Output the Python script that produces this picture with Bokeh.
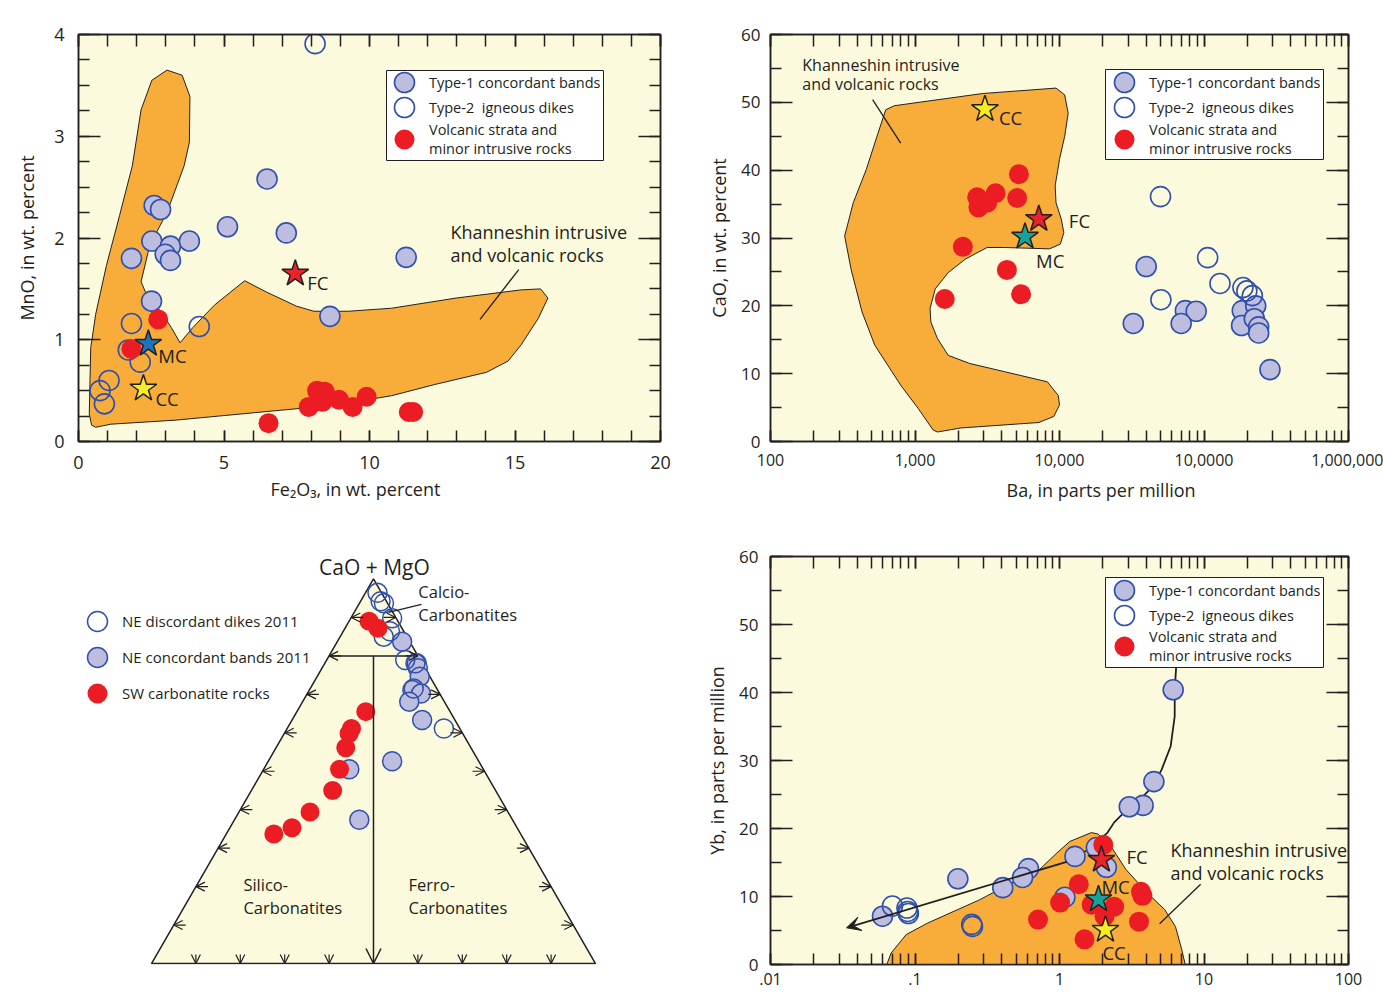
import math
from bokeh.plotting import figure
from bokeh.models import (Range1d, FixedTicker, LinearAxis, LogAxis, Legend, LegendItem, Label, Title,
                          Arrow, OpenHead, VeeHead, BoxAnnotation, ColumnDataSource, CustomJSTickFormatter)
from bokeh.layouts import column, row
from bokeh.embed import file_html
from bokeh.resources import INLINE

# ======================= DATA =======================
# ---- Panel A : Fe2O3 vs MnO (wt. percent)
A_t1_fe = [6.48, 2.60, 2.82, 5.12, 7.14, 2.52, 3.16, 3.81, 2.98, 3.16, 1.82, 11.26, 2.51, 8.64]
A_t1_mn = [2.58, 2.32, 2.28, 2.11, 2.05, 1.97, 1.92, 1.97, 1.84, 1.78, 1.80, 1.81, 1.38, 1.23]
A_t2_fe = [8.13, 1.82, 4.15, 1.71, 2.12, 1.05, 0.74, 0.89]
A_t2_mn = [3.91, 1.16, 1.13, 0.90, 0.78, 0.60, 0.50, 0.37]
A_vo_fe = [2.74, 1.82, 8.20, 8.46, 8.38, 7.91, 8.95, 9.42, 9.90, 11.35, 11.50, 6.53]
A_vo_mn = [1.20, 0.91, 0.50, 0.49, 0.39, 0.34, 0.41, 0.34, 0.44, 0.29, 0.29, 0.18]
A_star_names = ["FC", "MC", "CC"]
A_star_fe = [7.45, 2.40, 2.23]
A_star_mn = [1.65, 0.96, 0.52]
A_field_fe = [0.45, 0.37, 0.42, 0.59, 0.96, 1.41, 1.85, 2.15, 2.52, 3.04, 3.56, 3.83, 3.81, 3.63, 3.04,
              2.45, 2.15, 2.30, 2.74, 3.19, 3.49, 3.93, 4.67, 5.71, 6.45, 7.49, 8.09, 9.27, 10.76, 12.98,
              15.21, 15.88, 16.13, 15.80, 15.21, 14.76, 14.02, 12.24, 10.76, 9.27, 7.79, 4.82, 3.34, 1.11, 0.59]
A_field_mn = [0.16, 0.27, 0.92, 1.25, 1.73, 2.22, 2.71, 3.26, 3.55, 3.65, 3.60, 3.39, 2.94, 2.71, 2.25,
              1.93, 1.57, 1.47, 1.31, 1.12, 0.97, 1.12, 1.34, 1.58, 1.47, 1.33, 1.28, 1.28, 1.31, 1.41,
              1.49, 1.50, 1.41, 1.21, 0.95, 0.79, 0.68, 0.56, 0.45, 0.38, 0.33, 0.25, 0.21, 0.17, 0.14]
A_leader_fe = [15.13, 13.80]
A_leader_mn = [1.69, 1.20]

# ---- Panel B : Ba (ppm, log) vs CaO (wt. percent)
B_t1_ba = [39800, 32400, 74300, 88300, 69500, 184000, 228000, 182000, 223000, 239000, 239000, 286000]
B_t1_ca = [25.8, 17.4, 19.3, 19.2, 17.4, 19.3, 20.0, 17.1, 18.1, 16.9, 16.0, 10.6]
B_t2_ba = [50000, 106000, 129000, 50300, 186000, 198000, 216000]
B_t2_ca = [36.1, 27.1, 23.3, 20.9, 22.7, 22.2, 21.5]
B_vo_ba = [5236, 2692, 3612, 5093, 2748, 3155, 2143, 4325, 5420, 1607]
B_vo_ca = [39.4, 36.0, 36.6, 35.9, 34.5, 35.2, 28.7, 25.3, 21.7, 21.0]
B_star_names = ["FC", "MC", "CC"]
B_star_ba = [7194, 5770, 3048]
B_star_ca = [32.8, 30.2, 49.0]
B_field_ba = [627, 719, 2944, 9462, 10864, 11482, 10864, 10000, 9333, 9462, 10280, 10715, 10139, 8531,
              4150, 3155, 2234, 1698, 1380, 1271, 1288, 1429, 1698, 2393, 4150, 8241, 9795, 10000, 9141,
              7194, 2084, 1429, 1334, 1050, 796, 527, 430, 361, 326, 374, 460, 546]
B_field_ca = [48.9, 49.5, 51.3, 52.1, 51.1, 48.4, 45.0, 41.6, 37.7, 35.2, 32.8, 30.8, 29.1, 28.4,
              28.6, 28.6, 26.9, 24.9, 22.5, 19.6, 17.6, 15.2, 12.7, 11.5, 10.3, 8.8, 6.8, 5.4, 3.7,
              2.8, 2.0, 1.4, 1.7, 4.9, 8.3, 14.2, 19.1, 25.4, 30.3, 35.2, 40.1, 45.0]
B_leader_ba = [509, 796]
B_leader_ca = [50.4, 44.0]
B_tick_vals = [100, 1000, 10000, 100000, 1000000]
B_tick_text = ["100", "1,000", "10,000", "10,0000", "1,000,000"]

# ---- Panel C : ternary  CaO+MgO / Fe2O3+MnO / SiO2 (percent)
C_open_cao = [96.4, 94.2, 93.7, 89.8, 86.4, 85.0, 78.9, 78.1, 71.5, 61.1]
C_open_fe = [2.7, 4.5, 5.5, 9.3, 10.5, 9.8, 17.7, 20.4, 23.3, 35.3]
C_band_cao = [83.7, 78.1, 76.8, 74.6, 71.1, 70.2, 68.1, 63.3, 52.6, 50.5, 37.4]
C_band_fe = [14.6, 20.7, 21.6, 23.1, 23.2, 25.6, 24.0, 29.3, 27.9, 19.3, 28.1]
C_sw_cao = [89.0, 87.2, 65.5, 61.1, 59.8, 56.1, 50.5, 45.0, 39.4, 35.3, 33.7]
C_sw_fe = [4.5, 7.4, 15.5, 14.5, 14.6, 15.7, 17.1, 18.3, 16.0, 14.0, 10.7]
C_open_si = [100 - a - b for a, b in zip(C_open_cao, C_open_fe)]
C_band_si = [100 - a - b for a, b in zip(C_band_cao, C_band_fe)]
C_sw_si = [100 - a - b for a, b in zip(C_sw_cao, C_sw_fe)]
C_calcio_limit = 80          # CaO+MgO boundary (percent)
C_tick_steps = [10, 20, 30, 40, 50, 60, 70, 80, 90]

# ---- Panel D : ratio (log) vs Yb (ppm)
D_t1_x = [6.12, 4.50, 3.79, 3.04, 1.28, 1.80, 0.61, 0.555, 0.405, 0.198, 0.0596, 1.09, 2.11]
D_t1_yb = [40.4, 26.9, 23.4, 23.2, 15.9, 17.2, 14.1, 12.8, 11.3, 12.6, 7.1, 9.9, 14.3]
D_t2_x = [0.0698, 0.088, 0.089, 0.090, 0.247, 0.250]
D_t2_yb = [8.6, 8.3, 7.8, 7.5, 5.9, 5.6]
D_vo_x = [2.01, 1.36, 1.01, 0.71, 1.67, 2.39, 3.66, 3.75, 3.55, 1.49, 2.05]
D_vo_yb = [17.6, 11.8, 9.1, 6.6, 8.8, 8.5, 10.7, 10.1, 6.3, 3.7, 7.1]
D_star_names = ["FC", "MC", "CC"]
D_star_x = [1.95, 1.86, 2.08]
D_star_yb = [15.4, 9.6, 5.1]
D_field_x = [0.0638, 0.0684, 0.0869, 0.1225, 0.279, 0.518, 0.730, 0.959, 1.180, 1.663, 1.841,
             2.265, 2.877, 4.055, 5.333, 6.339, 7.015, 7.413]
D_field_yb = [0.0, 1.7, 4.4, 6.1, 9.5, 12.5, 14.0, 16.4, 18.1, 19.4, 19.2,
              17.4, 14.0, 10.5, 8.1, 5.6, 2.2, 0.0]
D_trend_x = [6.41, 6.27, 6.27, 5.88, 5.10, 4.43, 3.61, 2.94, 2.39, 2.15, 1.59, 1.12]
D_trend_yb = [43.6, 40.4, 36.5, 32.1, 28.7, 26.2, 24.3, 22.8, 20.9, 19.4, 16.9, 15.1]
D_arrow_tip = (0.0336, 5.4)
D_leader_x = [9.48, 4.93]
D_leader_yb = [11.8, 6.0]
D_tick_vals = [0.01, 0.1, 1, 10, 100]
D_tick_text = [".01", ".1", "1", "10", "100"]

# ======================= STYLE =======================
FONT = "Open Sans"
INK = "#231F20"
BG = "#FCFADD"
ORANGE = "#F8AD3A"
LAV = "#BDBDE0"
BLUE = "#3150AB"
RED = "#EC1C24"
STAR_COL = {"FC": "#E8232B", "MC_A": "#1C75BC", "MC": "#16A39A", "CC": "#F7EC1F"}
MS = 20

# uniform layout grid (all figures in a column / row share the same borders)
COL1 = dict(l=78, w=582, r=23)
COL2 = dict(l=87, w=578, r=35)
ROW1 = dict(t=34, h=407, b=72)
ROW2 = dict(t=43, h=408, b=30)


def make_fig(col, rw, xr, yr, x_type="linear", bg=BG):
    p = figure(frame_width=col["w"], frame_height=rw["h"], min_border_left=col["l"],
               min_border_right=col["r"], min_border_top=rw["t"], min_border_bottom=rw["b"],
               x_range=xr, y_range=yr, x_axis_type=x_type, output_backend="svg",
               toolbar_location=None, background_fill_color=bg, border_fill_color="white")
    p.outline_line_color = INK
    p.outline_line_width = 1.5
    p.grid.visible = False
    return p


def style_axis(ax, ticks, minor, major_len, minor_len, overrides=None, show=True,
               font_size="18px", standoff=10):
    ax.ticker = FixedTicker(ticks=ticks, minor_ticks=minor)
    ax.major_tick_in = major_len
    ax.major_tick_out = 0
    ax.minor_tick_in = minor_len
    ax.minor_tick_out = 0
    ax.axis_line_color = INK
    ax.axis_line_width = 1.5
    ax.major_tick_line_color = INK
    ax.minor_tick_line_color = INK
    ax.major_tick_line_width = 1.5
    ax.minor_tick_line_width = 1.5
    if not show:
        ax.formatter = CustomJSTickFormatter(code="return ''")
        ax.major_label_standoff = 0
        ax.major_label_text_font_size = "0px"
    else:
        if overrides:
            ax.major_label_overrides = overrides
        ax.major_label_text_font = FONT
        ax.major_label_text_font_size = font_size
        ax.major_label_text_color = INK
        ax.major_label_standoff = standoff
    ax.axis_label_text_font = FONT
    ax.axis_label_text_font_style = "normal"
    ax.axis_label_text_font_size = "18px"
    ax.axis_label_text_color = INK


def x_title(p, txt, offset, standoff):
    # axis title under the tick labels, left-aligned at `offset` px from the frame's left edge
    p.add_layout(Title(text=txt, align="left", offset=offset, standoff=standoff,
                       text_font=FONT, text_font_size="18px", text_font_style="normal",
                       text_color=INK), "below")


def add_points(p, t1x, t1y, t2x, t2y, vx, vy, size=MS):
    r1 = p.scatter(t1x, t1y, size=size, fill_color=LAV, line_color=BLUE, line_width=1.6)
    r2 = p.scatter(t2x, t2y, size=size, fill_color=None, line_color=BLUE, line_width=1.6)
    r3 = p.scatter(vx, vy, size=size, fill_color=RED, line_color=None)
    return r1, r2, r3


def add_legend(p, rends, labels, cx, cys, box=None, font_size="14.5px"):
    # cx, cys: glyph centres in screen px measured from the frame's bottom-left corner
    if box is not None:
        l, r, b, t = box
        p.add_layout(BoxAnnotation(left=l, right=r, bottom=b, top=t,
                                   left_units="screen", right_units="screen",
                                   top_units="screen", bottom_units="screen",
                                   fill_color="white", fill_alpha=1.0,
                                   line_color=INK, line_width=1, line_alpha=1.0))
    for lab, r, cy in zip(labels, rends, cys):
        leg = Legend(items=[LegendItem(label=lab, renderers=[r])],
                     location=(cx - 25, cy - 25), glyph_width=50, glyph_height=50, spacing=0,
                     padding=0, margin=0, label_standoff=-4, label_text_font=FONT,
                     label_text_font_size=font_size, label_text_line_height=1.23,
                     label_text_color=INK, border_line_color=None, background_fill_alpha=0)
        p.add_layout(leg)


def screen_text(p, txt, x, y, size="22px", font="Liberation Sans", align="center"):
    p.add_layout(Label(x=x, y=y, x_units="screen", y_units="screen", text=txt,
                       text_font=font, text_font_size=size,
                       text_align=align, text_baseline="middle", text_color=INK))


def text_label(p, x, y, txt, size="18.5px", dx=0, dy=0, align="left", baseline="middle", lh=1.0):
    p.add_layout(Label(x=x, y=y, text=txt, x_offset=dx, y_offset=dy, text_font=FONT,
                       text_font_size=size, text_align=align, text_baseline=baseline,
                       text_line_height=lh, text_color=INK))


LEG_LABELS = ["Type-1 concordant bands", "Type-2  igneous dikes", "Volcanic strata and\nminor intrusive rocks"]

# ======================= PANEL A =======================
pA = make_fig(COL1, ROW1, Range1d(0, 20), Range1d(0, 4))
style_axis(pA.xaxis[0], [0, 5, 10, 15, 20], list(range(0, 21)), 11, 11, standoff=14)
style_axis(pA.yaxis[0], [0, 1, 2, 3, 4], [i * 0.25 for i in range(17)], 22, 11, standoff=14)
x_title(pA, "Fe\u2082O\u2083, in wt. percent", 192, 6)
pA.yaxis[0].axis_label = "MnO, in wt. percent"
pA.yaxis[0].axis_label_standoff = 12
topA = LinearAxis()
rightA = LinearAxis()
pA.add_layout(topA, "above")
pA.add_layout(rightA, "right")
style_axis(topA, [0, 5, 10, 15, 20], list(range(0, 21)), 12, 12, show=False)
style_axis(rightA, [0, 1, 2, 3, 4], [i * 0.25 for i in range(17)], 22, 11, show=False)

pA.patch(A_field_fe, A_field_mn, fill_color=ORANGE, line_color=INK, line_width=1)
pA.line(A_leader_fe, A_leader_mn, line_color=INK, line_width=1.3)
rA = add_points(pA, A_t1_fe, A_t1_mn, A_t2_fe, A_t2_mn, A_vo_fe, A_vo_mn)
pA.scatter(A_star_fe, A_star_mn, marker="star", size=28,
           fill_color=[STAR_COL["FC"], STAR_COL["MC_A"], STAR_COL["CC"]],
           line_color=INK, line_width=1.5)
for nm, sx, sy, dx, dy in zip(A_star_names, A_star_fe, A_star_mn, [12, 10, 12], [-9, -12, -10]):
    text_label(pA, sx, sy, nm, dx=dx, dy=dy)
text_label(pA, 12.78, 1.946, "Khanneshin intrusive\nand volcanic rocks", size="18px", lh=0.98)
add_legend(pA, rA, LEG_LABELS, 326, [359, 334, 302], box=(308, 525, 281, 371))
screen_text(pA, "A", -60, 419)

# ======================= PANEL B =======================
B_minor = [k * 10 ** d for d in range(2, 6) for k in range(1, 10)] + [10 ** 6]
pB = make_fig(COL2, ROW1, Range1d(100, 1e6), Range1d(0, 60), x_type="log")
style_axis(pB.xaxis[0], B_tick_vals, B_minor, 11, 11,
           overrides=dict(zip(B_tick_vals, B_tick_text)), font_size="16px", standoff=12)
style_axis(pB.yaxis[0], list(range(0, 61, 10)), list(range(0, 61, 5)), 22, 11, font_size="17px",
           standoff=10)
x_title(pB, "Ba, in parts per million", 236, 15)
pB.yaxis[0].axis_label = "CaO, in wt. percent"
pB.yaxis[0].axis_label_standoff = 7
topB = LogAxis()
rightB = LinearAxis()
pB.add_layout(topB, "above")
pB.add_layout(rightB, "right")
style_axis(topB, B_tick_vals, B_minor, 12, 12, show=False)
style_axis(rightB, list(range(0, 61, 10)), list(range(0, 61, 5)), 22, 11, show=False)

pB.patch(B_field_ba, B_field_ca, fill_color=ORANGE, line_color=INK, line_width=1)
pB.line(B_leader_ba, B_leader_ca, line_color=INK, line_width=1.3)
rB = add_points(pB, B_t1_ba, B_t1_ca, B_t2_ba, B_t2_ca, B_vo_ba, B_vo_ca)
pB.scatter(B_star_ba, B_star_ca, marker="star", size=28,
           fill_color=[STAR_COL["FC"], STAR_COL["MC"], STAR_COL["CC"]],
           line_color=INK, line_width=1.5)
for nm, sx, sy, dx, dy in zip(B_star_names, B_star_ba, B_star_ca, [30, 11, 14], [-1, -24, -8]):
    text_label(pB, sx, sy, nm, dx=dx, dy=dy)
text_label(pB, 166, 54.1, "Khanneshin intrusive\nand volcanic rocks", size="16px", lh=0.83)
add_legend(pB, rB, LEG_LABELS, 354, [359, 334, 302], box=(335, 553, 282, 372))
screen_text(pB, "B", -58, 419)

# ======================= PANEL C (ternary) =======================
H = math.sqrt(3) / 2
UNIT = 444.0                       # pixels per ternary unit
cx0 = (78 - 151) / UNIT
cy0 = (964 - 965) / UNIT
pC = make_fig(COL1, ROW2, Range1d(cx0, cx0 + COL1["w"] / UNIT), Range1d(cy0, cy0 + ROW2["h"] / UNIT),
              x_type=None, bg="white")
pC.yaxis.visible = False
pC.outline_line_color = None
for r in list(pC.left) + list(pC.below):
    r.visible = False


def tern(cao, fe):
    xs = [f / 100 + c / 200 for c, f in zip(cao, fe)]
    ys = [c / 100 * H for c in cao]
    return xs, ys


pC.patch([0, 1, 0.5], [0, 0, H], fill_color=BG, line_color=INK, line_width=1.5)
lim = C_calcio_limit / 100
pC.line([lim / 2, 1 - lim / 2], [lim * H, lim * H], line_color=INK, line_width=1.5)
pC.add_layout(Arrow(end=OpenHead(size=15, line_width=1.5, line_color=INK),
                    x_start=0.5, y_start=lim * H, x_end=0.5, y_end=0,
                    line_width=1.5, line_color=INK))
L1 = 12 / UNIT
L2 = 9 / UNIT
txs, tys, txe, tye = [], [], [], []
for t in C_tick_steps:
    f = t / 100
    txs += [f / 2 + L1, 1 - f / 2 - L1]
    tys += [f * H, f * H]
    txe += [f / 2, 1 - f / 2]
    tye += [f * H, f * H]
    if t != 50:
        txs.append(f); tys.append(L2); txe.append(f); tye.append(0)
pC.add_layout(Arrow(end=OpenHead(size=9, line_width=1.2, line_color=INK),
                    source=ColumnDataSource(dict(xs=txs, ys=tys, xe=txe, ye=tye)),
                    x_start="xs", y_start="ys", x_end="xe", y_end="ye",
                    line_width=1.2, line_color=INK))

bx, by = tern(C_band_cao, C_band_fe)
ox, oy = tern(C_open_cao, C_open_fe)
sx_, sy_ = tern(C_sw_cao, C_sw_fe)
rc2 = pC.scatter(bx, by, size=19, fill_color=LAV, line_color=BLUE, line_width=1.5)
rc1 = pC.scatter(ox, oy, size=19, fill_color=None, line_color=BLUE, line_width=1.5)
rc3 = pC.scatter(sx_, sy_, size=19, fill_color=RED, line_color=None)
pC.line([0.534, 0.608], [0.791, 0.809], line_color=INK, line_width=1.3)

text_label(pC, 0.502, 0.892, "CaO + MgO", size="21px", align="center")
text_label(pC, 0.601, 0.811, "Calcio-\nCarbonatites", size="16.5px", lh=1.0)
text_label(pC, 0.207, 0.153, "Silico-\nCarbonatites", size="16.5px", lh=1.0)
text_label(pC, 0.579, 0.153, "Ferro-\nCarbonatites", size="16.5px", lh=1.0)
text_label(pC, -0.007, -0.036, "SiO\u2082", size="21px", align="center")
text_label(pC, 1.029, -0.036, "Fe\u2082O\u2083+MnO", size="21px", align="center")
add_legend(pC, [rc1, rc2, rc3], ["NE discordant dikes 2011", "NE concordant bands 2011", "SW carbonatite rocks"],
           19, [343, 307, 271], font_size="15px")
screen_text(pC, "C", -56, 415)

# ======================= PANEL D =======================
D_minor = [k * 10 ** d for d in range(-2, 2) for k in range(1, 10)] + [100]
pD = make_fig(COL2, ROW2, Range1d(0.01, 100), Range1d(0, 60), x_type="log")
style_axis(pD.xaxis[0], D_tick_vals, D_minor, 11, 11,
           overrides=dict(zip(D_tick_vals, D_tick_text)), font_size="16px", standoff=8)
style_axis(pD.yaxis[0], list(range(0, 61, 10)), list(range(0, 61, 5)), 22, 11, font_size="17px",
           standoff=12)
pD.yaxis[0].axis_label = "Yb, in parts per million"
pD.yaxis[0].axis_label_standoff = 7
topD = LogAxis()
rightD = LinearAxis()
pD.add_layout(topD, "above")
pD.add_layout(rightD, "right")
style_axis(topD, D_tick_vals, D_minor, 12, 12, show=False)
style_axis(rightD, list(range(0, 61, 10)), list(range(0, 61, 5)), 22, 11, show=False)

pD.patch(D_field_x, D_field_yb, fill_color=ORANGE, line_color=INK, line_width=1)
pD.line(D_leader_x, D_leader_yb, line_color=INK, line_width=1.3)
pD.line(D_trend_x, D_trend_yb, line_color=INK, line_width=1.8)
pD.add_layout(Arrow(end=VeeHead(size=14, fill_color=INK, line_color=INK),
                    x_start=D_trend_x[-1], y_start=D_trend_yb[-1],
                    x_end=D_arrow_tip[0], y_end=D_arrow_tip[1],
                    line_width=1.8, line_color=INK))
rD = add_points(pD, D_t1_x, D_t1_yb, D_t2_x, D_t2_yb, D_vo_x, D_vo_yb)
pD.scatter(D_star_x, D_star_yb, marker="star", size=28,
           fill_color=[STAR_COL["FC"], STAR_COL["MC"], STAR_COL["CC"]],
           line_color=INK, line_width=1.5)
for nm, sx, sy, dx, dy in zip(D_star_names, D_star_x, D_star_yb, [25, 3, -3], [3, 13, -23]):
    text_label(pD, sx, sy, nm, dx=dx, dy=dy)
text_label(pD, 5.86, 15.15, "Khanneshin intrusive\nand volcanic rocks", size="18px", lh=0.98)
add_legend(pD, rD, LEG_LABELS, 354, [374, 349, 318], box=(335, 553, 297, 387))
screen_text(pD, "D", -58, 415)

layout = column(row(pA, pB), row(pC, pD))
open("out.html", "w").write(file_html(layout, INLINE))
